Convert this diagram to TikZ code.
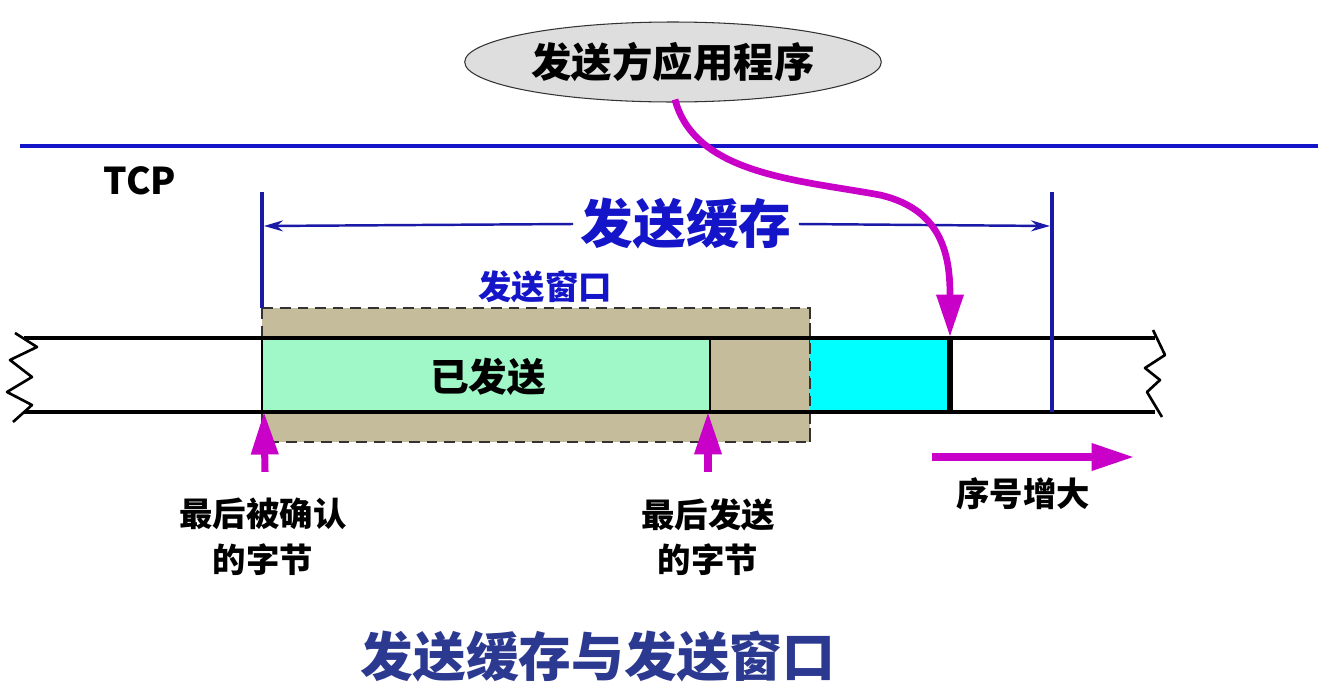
\documentclass[tikz,border=0pt]{standalone}
\usepackage{fontspec}
\setmainfont{Noto Sans CJK SC}
\usetikzlibrary{arrows.meta,positioning,shapes.geometric,calc}
\definecolor{tcpBlue}{HTML}{1414C8}
\definecolor{tcpNavy}{HTML}{1A1AA6}
\definecolor{tcpTitle}{HTML}{2B3990}
\definecolor{tcpMag}{HTML}{C800C8}
\definecolor{tcpTan}{HTML}{C4BC9A}
\definecolor{tcpGreen}{HTML}{A0F8C8}
\definecolor{tcpCyan}{HTML}{00FFFF}
\definecolor{tcpGray}{HTML}{DEDEDE}
\tikzset{
  band/.style    ={black,line width=2pt},
  bound/.style   ={tcpNavy,line width=1.8pt},
  marrow/.style  ={-{Triangle[length=0.85cm,width=0.52cm]},tcpMag,line width=4pt},
  lbl/.style     ={font=\fontsize{19}{24}\selectfont\bfseries,align=center,inner sep=0pt},
  winbox/.style  ={fill=tcpTan,draw=black!80,line width=1.5pt,dash pattern=on 6pt off 4pt},
}
\begin{document}
\begin{tikzpicture}[x=0.02cm,y=-0.02cm]
\useasboundingbox (0,0) rectangle (1325,690);

% application
\node[ellipse,draw=black!80,line width=0.6pt,fill=tcpGray,minimum width=7.72cm,
      minimum height=1.6cm,font=\fontsize{23}{28}\selectfont\bfseries] (app) at (673,62) {发送方应用程序};
\draw[tcpBlue,line width=2.8pt] (20,146) -- (1318,146);
\node[font=\fontsize{21}{26}\selectfont\bfseries,inner sep=0pt] (tcp) at (140,181) {TCP};

% window
\path[winbox] (262,308) rectangle (810,442);
\fill[tcpGreen] (262,338) rectangle (710,412);
\fill[tcpCyan] (810,338) rectangle (948,412);
\draw[line width=0.8pt] (262,338) -- (262,412);
\draw[line width=0.8pt] (710,338) -- (710,412);
\draw[winbox,fill=none] (810,308) -- (810,442);
\node[lbl,font=\fontsize{22}{26}\selectfont\bfseries] (sent) at (488,377) {已发送};
\node[lbl,text=tcpBlue] (wnd) at (545,287) {发送窗口};

% band
\draw[band] (24,338) -- (1155,338);
\draw[band] (24,412) -- (1155,412);
\draw[line width=1.5pt,line join=round] (15,333) -- (37,347) -- (10,360) -- (32,377) -- (7,392) -- (32,405) -- (13,422);
\draw[line width=1.5pt,line join=round] (1153,330) -- (1165,355) -- (1145,368) -- (1160,380) -- (1147,392) -- (1162,417);
\draw[line width=3.2pt] (950,338) -- (950,412);
\coordinate (wrpt) at (950,337);

% send buffer
\draw[bound] (262,192) -- (262,308);
\draw[bound] (1052,192) -- (1052,412);
\node[font=\fontsize{30}{36}\selectfont\bfseries,text=tcpBlue,fill=white,inner xsep=4pt,inner ysep=0pt] (buf) at (686,224) {发送缓存};
\draw[tcpNavy,line width=1.4pt,-{Stealth[length=0.38cm,width=0.22cm]}] (buf.west) -- (264,226);
\draw[tcpNavy,line width=1.4pt,-{Stealth[length=0.38cm,width=0.22cm]}] (buf.east) -- (1050,226);

% write from application
\draw[marrow,line width=3.8pt] (app.south) ++(2,-3) .. controls (695,175) and (800,180) .. (880,195)
  .. controls (945,210) and (950,260) .. (wrpt);

% pointers
\node[lbl] (lastack) at (263,537) {最后被确认\\[2pt]的字节};
\node[lbl] (lastsent) at (708,537) {最后发送\\[2pt]的字节};
\coordinate (ackpt) at (264,412);
\coordinate (sndpt) at (708,412);
\draw[marrow] (lastack.north) ++(2,-26) -- (ackpt);
\draw[marrow] (lastsent.north) ++(0,-26) -- (sndpt);

% sequence direction
\coordinate (seqa) at (932,457);
\coordinate (seqb) at (1134,457);
\draw[marrow] (seqa) -- (seqb);
\node[lbl] (seq) at (1023,494) {序号增大};

\node[font=\fontsize{30}{36}\selectfont\bfseries,text=tcpTitle,inner sep=0pt] (title) at (598,657) {发送缓存与发送窗口};
\end{tikzpicture}
\end{document}
